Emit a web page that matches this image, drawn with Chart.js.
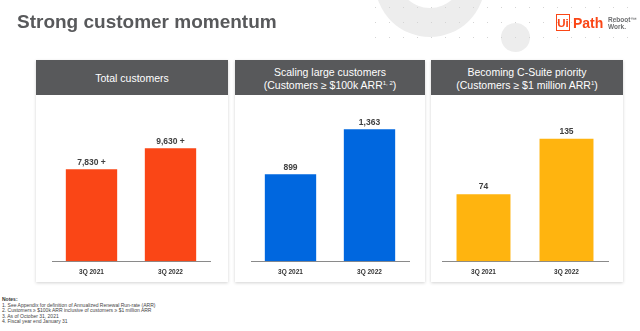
<!DOCTYPE html>
<html lang="en">
<head>
  <meta charset="UTF-8">
  <title>Strong customer momentum</title>
  <script src="https://cdn.jsdelivr.net/npm/chart.js"></script>
  <style>
    body {
      margin: 0;
      width: 640px;
      height: 331px;
      background: #fff;
      font-family: "Liberation Sans", Arial, sans-serif;
      position: relative;
      overflow: hidden;
    }
    /* background decoration, top right */
    .ring {
      position: absolute;
      left: 375px; top: -73px;
      width: 110px; height: 110px;
      border-radius: 50%;
      background: #ededed;
    }
    .ring-hole {
      position: absolute;
      left: 397px; top: -58px;
      width: 66px; height: 66px;
      border-radius: 50%;
      background: #fff;
    }
    .blob {
      position: absolute;
      left: 501px; top: 23px;
      width: 29px; height: 29px;
      border-radius: 50%;
      background: #ededed;
    }
    #dots { position: absolute; left: 0; top: 0; }
    h1 {
      position: absolute;
      left: 17px; top: 12px;
      margin: 0;
      font-size: 19px;
      line-height: 19px;
      font-weight: bold;
      color: #58595b;
    }
    .logo {
      position: absolute;
      left: 556px; top: 14px;
      height: 18px;
      white-space: nowrap;
    }
    .logo .ui {
      position: absolute;
      left: 0; top: 0;
      width: 12px; height: 15px;
      border: 1.5px solid #fa4616;
      color: #fa4616;
      font-weight: bold;
      font-size: 11.5px;
      line-height: 17px;
      text-align: center;
      overflow: hidden;
    }
    .logo .path {
      position: absolute;
      left: 17px; top: 0;
      color: #fa4616;
      font-weight: bold;
      font-size: 14px;
      line-height: 19px;
    }
    .logo .tag {
      position: absolute;
      left: 52px; top: 3px;
      color: #6d6e70;
      font-size: 6.5px;
      line-height: 6.5px;
      font-weight: bold;
    }
    .panel {
      position: absolute;
      top: 60px;
      height: 222px;
      background: #fff;
      box-shadow: 0 1px 3px rgba(0,0,0,0.18);
    }
    .panel .head {
      box-sizing: border-box;
      height: 35px;
      padding-top: 2px;
      background: #58595b;
      color: #fff;
      font-size: 10.5px;
      line-height: 12.5px;
      display: flex;
      align-items: center;
      justify-content: center;
      text-align: center;
    }
    .panel sup { font-size: 6px; vertical-align: 4px; line-height: 0; }
    .panel canvas { position: absolute; left: 0; top: 35px; }
    .notes {
      position: absolute;
      left: 2px; top: 297px;
      font-size: 5px;
      line-height: 5.6px;
      color: #444;
    }
    .notes b { color: #333; }
  </style>
</head>
<body>
  <div class="ring"></div>
  <div class="ring-hole"></div>
  <div class="blob"></div>
  <canvas id="dots" width="640" height="60"></canvas>

  <h1>Strong customer momentum</h1>
  <div class="logo">
    <span class="ui">Ui</span><span class="path">Path</span>
    <span class="tag">Reboot&trade;<br>Work.</span>
  </div>

  <div class="panel" style="left:36px;width:192px;">
    <div class="head"><div>Total customers</div></div>
    <canvas id="totalChart" width="192" height="188"></canvas>
  </div>
  <div class="panel" style="left:235px;width:190px;">
    <div class="head"><div>Scaling large customers<br>(Customers &ge; $100k ARR<sup>1, 2</sup>)</div></div>
    <canvas id="largeChart" width="190" height="188"></canvas>
  </div>
  <div class="panel" style="left:431px;width:192px;">
    <div class="head"><div>Becoming C-Suite priority<br>(Customers &ge; $1 million ARR<sup>1</sup>)</div></div>
    <canvas id="csuiteChart" width="192" height="188"></canvas>
  </div>

  <div class="notes">
    <b>Notes:</b><br>
    1. See Appendix for definition of Annualized Renewal Run-rate (ARR)<br>
    2. Customers &ge; $100k ARR inclusive of customers &ge; $1 million ARR<br>
    3. As of October 31, 2021<br>
    4. Fiscal year end January 31
  </div>

  <script>
    // chart data
    const quarters = ['3Q 2021', '3Q 2022'];
    const totalCustomers = [7830, 9630];
    const largeCustomers = [899, 1363];
    const millionCustomers = [74, 135];

    // dotted grid behind the logo
    const dctx = document.getElementById('dots').getContext('2d');
    dctx.fillStyle = '#d4d4d4';
    for (let y = 7; y < 50; y += 15) {
      for (let x = 375; x < 640; x += 14) {
        dctx.fillRect(x, y, 1, 1);
      }
    }

    // value label above each bar
    const valueLabels = {
      id: 'valueLabels',
      afterDatasetsDraw(chart, args, options) {
        const { ctx } = chart;
        const meta = chart.getDatasetMeta(0);
        const data = chart.data.datasets[0].data;
        ctx.save();
        ctx.font = 'bold 8.5px "Liberation Sans", Arial, sans-serif';
        ctx.fillStyle = '#404040';
        ctx.textAlign = 'center';
        ctx.textBaseline = 'middle';
        meta.data.forEach((bar, i) => {
          const text = data[i].toLocaleString('en-US') + (options.suffix || '');
          ctx.fillText(text, bar.x, bar.y - 7);
        });
        ctx.restore();
      }
    };

    function makeChart(id, values, color, max, pad, suffix) {
      const ctx = document.getElementById(id).getContext('2d');
      return new Chart(ctx, {
        type: 'bar',
        data: {
          labels: quarters,
          datasets: [{
            data: values,
            backgroundColor: color,
            barPercentage: 0.65,
            categoryPercentage: 1
          }]
        },
        options: {
          responsive: false,
          animation: false,
          layout: { padding: { left: pad[0], right: pad[1], top: 23, bottom: 0 } },
          plugins: {
            legend: { display: false },
            tooltip: { enabled: false },
            valueLabels: { suffix: suffix }
          },
          scales: {
            x: {
              grid: { display: false, drawTicks: false },
              border: { display: true, color: '#8a8a8a', width: 1 },
              ticks: {
                padding: 7,
                color: '#333',
                font: { family: '"Liberation Sans", Arial, sans-serif', size: 6.5, weight: 'bold' }
              }
            },
            y: { display: false, min: 0, max: max }
          }
        },
        plugins: [valueLabels]
      });
    }

    makeChart('totalChart', totalCustomers, '#fa4616', 12200, [16, 18], ' +');
    makeChart('largeChart', largeCustomers, '#0067df', 1480, [16, 16], '');
    makeChart('csuiteChart', millionCustomers, '#ffb40f', 158, [11, 15], '');
  </script>
</body>
</html>
